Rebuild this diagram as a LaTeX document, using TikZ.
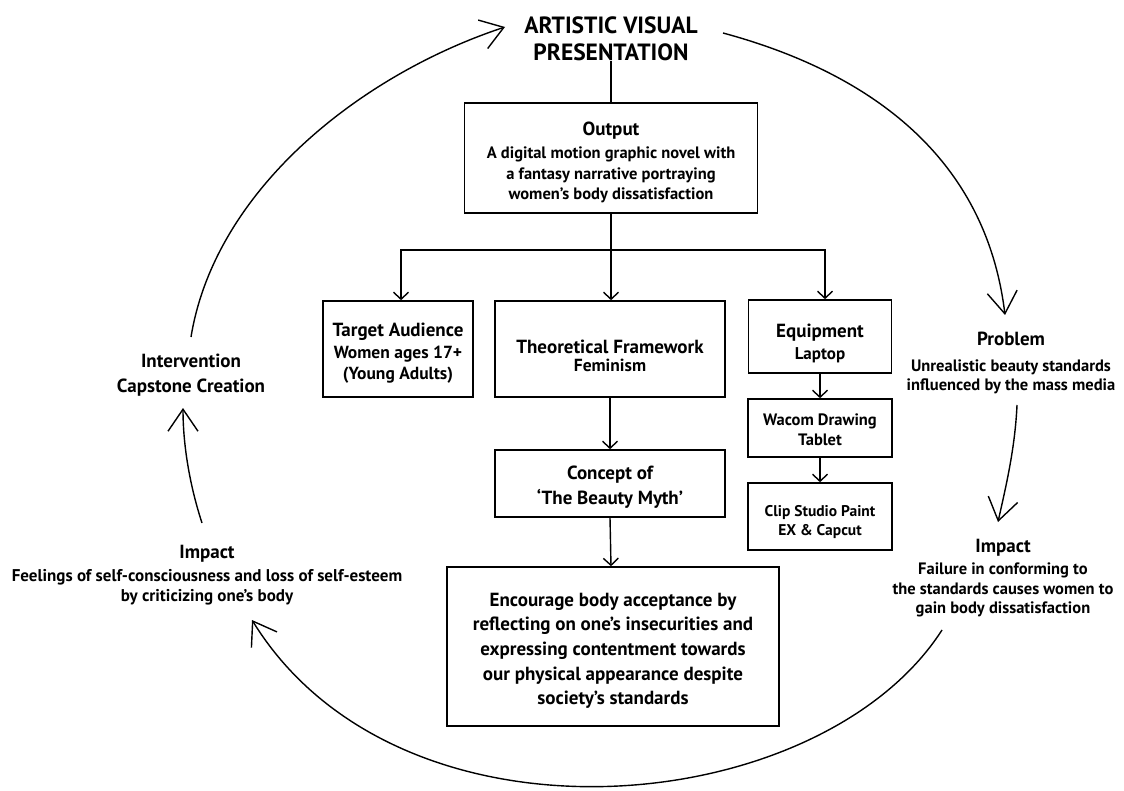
\documentclass[tikz,border=0pt]{standalone}
\usepackage{fontspec}
\setmainfont{PT Sans}
\usetikzlibrary{arrows.meta}
\newcommand{\myfs}[2]{\fontsize{#1}{#2}\selectfont}
\newcommand{\hd}[1]{{\myfs{19}{22}#1}}
\begin{document}
\begin{tikzpicture}[x=1pt,y=-1pt,
  box/.style={draw, line width=1.6pt, align=center, inner sep=0pt},
  lbl/.style={align=center, inner sep=0pt},
  plain/.style={line width=1.4pt},
  link/.style={line width=1.4pt, -{Straight Barb[length=7pt,width=15pt]}},
  big/.style={line width=1.4pt, -{Straight Barb[length=22pt,width=30pt]}}]
\useasboundingbox (0,0) rectangle (1124,791);

% title
\node[lbl, font=\bfseries\myfs{23.5}{27}] (title) at (611,39) {ARTISTIC VISUAL\\PRESENTATION};

% central column
\node[box, font=\bfseries\myfs{16.5}{20.5}, minimum width=293pt, minimum height=110pt] (output) at (611,158)
  {\rule{0pt}{22pt}\hd{Output}\\[3pt]A digital motion graphic novel with\\a fantasy narrative portraying\\women's body dissatisfaction};
\node[box, font=\bfseries\myfs{17.5}{21}, minimum width=150pt, minimum height=96pt] (ta) at (398,349)
  {\rule{0pt}{22pt}\hd{Target Audience}\\[1pt]Women ages 17+\\(Young Adults)};
\node[box, font=\bfseries\myfs{17.5}{18}, minimum width=230pt, minimum height=96pt] (tf) at (610,349)
  {\rule{0pt}{28pt}\hd{Theoretical Framework}\\Feminism};
\node[box, font=\bfseries\myfs{19}{25}, minimum width=230pt, minimum height=67pt] (concept) at (610,483.5)
  {\rule{0pt}{21pt}Concept of\\`The Beauty Myth'};
\node[box, font=\bfseries\myfs{19}{24.7}, minimum width=332pt, minimum height=159pt] (enc) at (613,646.5)
  {\rule{0pt}{22pt}Encourage body acceptance by\\reflecting on one's insecurities and\\expressing contentment towards\\our physical appearance despite\\society's standards};

% equipment column
\node[box, font=\bfseries\myfs{17}{21}, minimum width=143pt, minimum height=73pt] (eq) at (820,336.5)
  {\rule{0pt}{27pt}\hd{Equipment}\\[1pt]Laptop};
\node[box, font=\bfseries\myfs{16.5}{20}, minimum width=144pt, minimum height=58pt] (wacom) at (820,428)
  {\rule{0pt}{16pt}Wacom Drawing\\Tablet};
\node[box, font=\bfseries\myfs{15.5}{19}, minimum width=144pt, minimum height=67pt] (clip) at (820,516.5)
  {\rule{0pt}{21.5pt}Clip Studio Paint\\EX \& Capcut};

% cycle labels
\node[lbl, font=\bfseries\myfs{16.5}{19}] (problem) at (1011,363)
  {\hd{Problem}\\[7pt]Unrealistic beauty standards\\influenced by the mass media};
\node[lbl, font=\bfseries\myfs{16.5}{19.5}] (impR) at (1003,578)
  {\hd{Impact}\\[3pt]Failure in conforming to\\the standards causes women to\\gain body dissatisfaction};
\node[lbl, font=\bfseries\myfs{17}{20}] (impL) at (207,575)
  {\hd{Impact}\\[3pt]Feelings of self-consciousness and loss of self-esteem\\by criticizing one's body};
\node[lbl, font=\bfseries\myfs{19}{25}] (interv) at (191,375)
  {Intervention\\Capstone Creation};

% tree connectors
\draw[plain] (title.south) -- (output.north);
\coordinate (br) at (611,250);
\draw[plain] (output.south) -- (br);
\draw[link] (br) -| ([xshift=3pt]ta.north);
\draw[link] (br) -- (br |- tf.north);
\draw[link] (br) -| ([xshift=5pt]eq.north);
\draw[link] (tf.south) -- (concept.north);
\draw[link] (concept.south) -- (br |- enc.north);
\draw[link] (eq.south) -- (wacom.north);
\draw[link] (wacom.south) -- (clip.north);

% cycle arrows
\coordinate (c1s) at (191,337);
\coordinate (c1e) at (505,27);
\coordinate (c2s) at (723,33);
\coordinate (c2e) at (1005,315);
\coordinate (c3s) at (1017,405);
\coordinate (c3e) at (998,522);
\coordinate (c4s) at (942,630);
\coordinate (c4e) at (252,620);
\coordinate (c5s) at (202,523);
\coordinate (c5e) at (183,408);
\draw[big] (c1s) .. controls (215,190) and (360,75) .. (c1e);
\draw[big] (c2s) .. controls (860,70) and (985,150) .. (c2e);
\draw[big] (c3s) .. controls (1015,450) and (1005,490) .. (c3e);
\draw[big] (c4s) .. controls (820,820) and (400,860) .. (c4e);
\draw[big] (c5s) .. controls (188,480) and (183,440) .. (c5e);
\end{tikzpicture}
\end{document}
